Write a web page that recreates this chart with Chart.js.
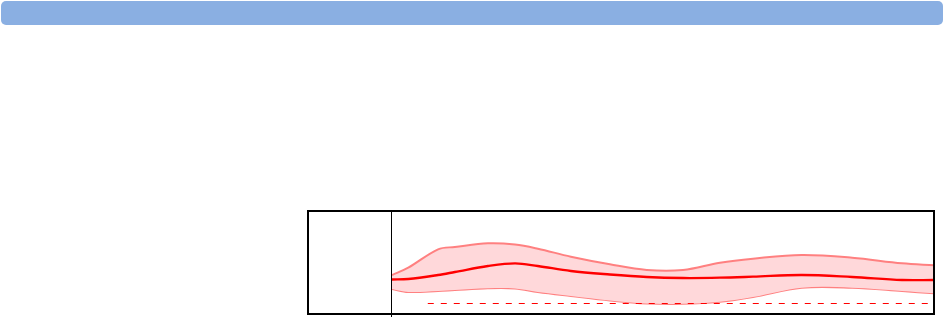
<!DOCTYPE html>
<html>
<head>
<meta charset="utf-8">
<script src="https://cdn.jsdelivr.net/npm/chart.js@4"></script>
<style>
  html, body { margin: 0; padding: 0; background: #ffffff; width: 944px; height: 317px; overflow: hidden; }
  #header { position: absolute; left: 1px; top: 1px; width: 942px; height: 24px; background: #8aafe2; border-radius: 5px; }
  #wrap { position: absolute; left: 307px; top: 210px; width: 628px; height: 107px; }
</style>
</head>
<body>
<div id="header"></div>
<div id="wrap"><canvas id="c" width="628" height="107"></canvas></div>
<script>
// x positions (percent of the trend window)
const xValues = [0, 3, 8.5, 11.6, 17.7, 22.7, 26.9, 33, 40.2, 47, 53.7, 60.5, 66.6, 75.6, 84.9, 94.1, 100];
// central trend
const midValues = [33.5, 34, 38, 41, 47, 49.7, 47, 42, 38.5, 36, 35, 35.3, 36.3, 38, 36, 33, 33];
// upper band edge
const upperValues = [38, 45.3, 63.7, 66, 69.7, 68.5, 64.3, 56.3, 48.7, 43, 43, 50.3, 54.3, 58, 55.3, 49.7, 47.7];
// lower band edge
const lowerValues = [24, 21, 22, 23, 24.7, 24.5, 21, 17, 12.5, 9.5, 9.2, 11.3, 16, 25.3, 25.3, 22, 19.7];
// dashed threshold
const thresholdX = [6.6, 100];
const thresholdValue = 9.5;

const toPts = (ys) => xValues.map((x, i) => ({ x: x, y: ys[i] }));

const framePlugin = {
  id: 'frame',
  afterDraw(chart) {
    const ctx = chart.ctx;
    const a = chart.chartArea;
    ctx.save();
    ctx.fillStyle = '#000';
    ctx.fillRect(a.left - 1, 2, 1, 105);
    ctx.strokeStyle = '#000';
    ctx.lineWidth = 2;
    ctx.strokeRect(1, 1, 626, 103);
    ctx.restore();
  }
};

new Chart(document.getElementById('c'), {
  type: 'line',
  data: {
    datasets: [
      {
        label: 'upper',
        data: toPts(upperValues),
        borderColor: '#ff8080',
        borderWidth: 2,
        backgroundColor: '#ffd8da',
        fill: '+1',
        pointRadius: 0,
        tension: 0.35,
        order: 2
      },
      {
        label: 'lower',
        data: toPts(lowerValues),
        borderColor: '#ff8080',
        borderWidth: 2,
        fill: false,
        pointRadius: 0,
        tension: 0.35,
        order: 2
      },
      {
        label: 'trend',
        data: toPts(midValues),
        borderColor: '#ff0000',
        borderWidth: 2.3,
        fill: false,
        pointRadius: 0,
        tension: 0.35,
        order: 1
      },
      {
        label: 'threshold',
        data: thresholdX.map(x => ({ x: x, y: thresholdValue })),
        borderColor: '#ff0000',
        borderWidth: 1,
        borderDash: [6, 7],
        fill: false,
        pointRadius: 0,
        order: 0
      }
    ]
  },
  options: {
    responsive: false,
    animation: false,
    layout: { padding: { left: 85, right: 1, top: 2, bottom: 4 } },
    plugins: { legend: { display: false }, tooltip: { enabled: false } },
    scales: {
      x: { type: 'linear', min: 0, max: 100, display: false },
      y: { min: 0, max: 101, display: false }
    }
  },
  plugins: [framePlugin]
});
</script>
</body>
</html>
